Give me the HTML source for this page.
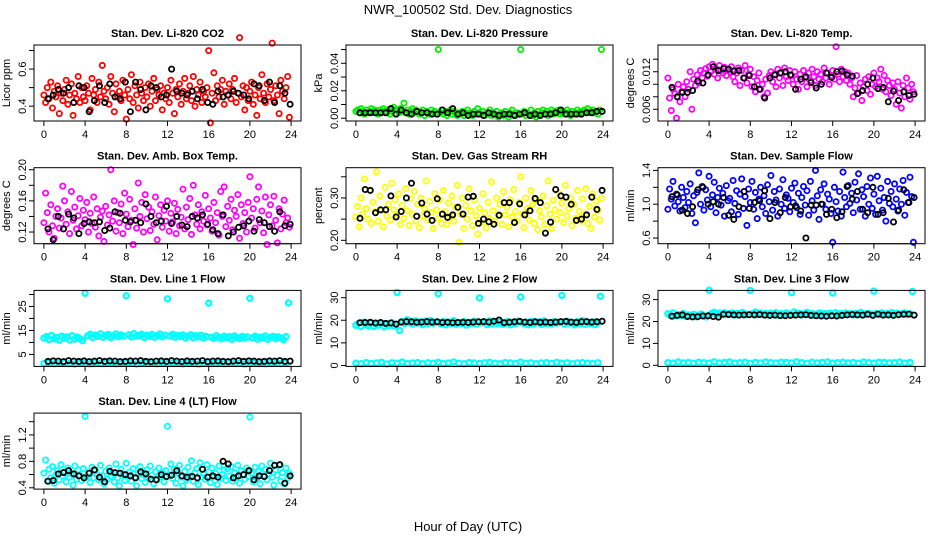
<!DOCTYPE html>
<html><head><meta charset="utf-8">
<style>
html,body{margin:0;padding:0;background:#fff;}
svg{display:block;font-family:"Liberation Sans",Arial,sans-serif;}
.ttl{font-size:11px;font-weight:bold;}
.tk{font-size:11px;}
</style></head>
<body>
<svg id="chart" width="936" height="540" viewBox="0 0 936 540" xmlns="http://www.w3.org/2000/svg">
<rect x="0" y="0" width="936" height="540" fill="#fff"/>
<text x="468" y="14" text-anchor="middle" font-size="13">NWR_100502  Std. Dev. Diagnostics</text>
<text x="468" y="531" text-anchor="middle" font-size="13">Hour of Day (UTC)</text>
</svg>
<script>
// ---------- data (colored = every 10 min, black = every 30 min) ----------
const xTicks=[0,4,8,12,16,20,24];
const co2Values=[.46,.42,.50,.44,.53,.39,.48,.45,.51,.36,.47,.43,.49,.54,.41,.46,.52,.35,.47,.44,.56,.42,.50,.45,.43,.51,.47,.38,.55,.46,.49,.42,.53,.45,.62,.48,.44,.50,.41,.56,.47,.37,.52,.45,.48,.43,.54,.46,.33,.49,.44,.57,.42,.51,.46,.39,.53,.47,.43,.50,.45,.52,.40,.48,.55,.43,.49,.46,.51,.38,.47,.44,.50,.42,.54,.47,.36,.49,.45,.52,.41,.48,.55,.44,.47,.51,.43,.56,.40,.49,.46,.53,.42,.48,.45,.50,.70,.31,.47,.58,.43,.51,.45,.49,.54,.41,.48,.46,.52,.44,.49,.55,.42,.47,.77,.45,.51,.38,.50,.43,.48,.53,.41,.46,.35,.50,.44,.57,.47,.42,.52,.45,.49,.74,.43,.51,.46,.36,.54,.48,.44,.50,.56,.34];
const co2Ref=[.44,.46,.49,.47,.50,.42,.51,.50,.37,.43,.51,.42,.52,.45,.44,.53,.37,.53,.49,.38,.51,.50,.45,.46,.60,.48,.47,.46,.48,.44,.49,.42,.41,.48,.45,.46,.48,.47,.46,.44,.52,.51,.43,.53,.42,.51,.47,.41];
const presValues=[.005,.006,.004,.007,.005,.003,.006,.004,.005,.007,.004,.006,.005,.003,.006,.004,.007,.005,.004,.006,.003,.005,.008,.006,.006,.004,.007,.005,.011,.004,.006,.003,.005,.007,.004,.006,.005,.003,.004,.006,.002,.005,.004,.003,.006,.004,.005,.003,.050,.004,.006,.003,.005,.002,.004,.006,.003,.005,.004,.002,.004,.003,.005,.002,.004,.006,.003,.004,.002,.005,.003,.007,.004,.003,.005,.002,.004,.003,.006,.002,.004,.003,.005,.001,.003,.004,.002,.005,.003,.001,.004,.006,.003,.002,.004,.003,.050,.003,.005,.002,.004,.003,.006,.002,.004,.001,.005,.003,.004,.006,.003,.005,.002,.004,.006,.003,.005,.004,.006,.003,.004,.005,.003,.006,.004,.002,.005,.003,.004,.006,.003,.005,.004,.006,.005,.007,.004,.005,.006,.004,.005,.003,.006,.050];
const presRef=[.004,.004,.004,.004,.004,.004,.007,.003,.006,.004,.003,.005,.004,.004,.003,.003,.006,.004,.007,.003,.004,.002,.003,.003,.002,.004,.003,.002,.003,.003,.002,.003,.004,.002,.003,.002,.003,.003,.004,.006,.003,.003,.003,.003,.004,.004,.005,.005];
const tempValues=[.0110,.0078,.0058,.0092,.0085,.0046,.0100,.0072,.0088,.0096,.0080,.0104,.0092,.0120,.0060,.0108,.0098,.0115,.0102,.0122,.0110,.0118,.0125,.0113,.0128,.0120,.0132,.0116,.0125,.0110,.0130,.0122,.0118,.0127,.0114,.0124,.0120,.0128,.0112,.0104,.0118,.0126,.0098,.0122,.0110,.0130,.0102,.0116,.0124,.0096,.0112,.0088,.0106,.0118,.0092,.0100,.0080,.0108,.0086,.0114,.0120,.0104,.0116,.0096,.0124,.0110,.0118,.0098,.0126,.0112,.0106,.0122,.0114,.0100,.0120,.0108,.0092,.0116,.0104,.0122,.0110,.0096,.0118,.0106,.0124,.0112,.0098,.0120,.0108,.0116,.0104,.0126,.0110,.0118,.0100,.0114,.0122,.0108,.0160,.0116,.0104,.0124,.0112,.0120,.0106,.0118,.0100,.0110,.0080,.0094,.0114,.0086,.0102,.0074,.0096,.0108,.0090,.0112,.0084,.0100,.0118,.0096,.0110,.0104,.0124,.0092,.0114,.0088,.0106,.0098,.0082,.0102,.0092,.0068,.0104,.0086,.0062,.0098,.0080,.0110,.0094,.0076,.0100,.0088];
const tempRef=[.0095,.0080,.0087,.0087,.0090,.0105,.0102,.0115,.0128,.0122,.0125,.0124,.0121,.0122,.0110,.0114,.0096,.0092,.0078,.0110,.0115,.0118,.0120,.0115,.0092,.0108,.0112,.0103,.0094,.0100,.0118,.0111,.0120,.0121,.0115,.0113,.0085,.0090,.0100,.0110,.0093,.0095,.0072,.0089,.0074,.0088,.0082,.0084];
const ambValues=[.132,.170,.145,.120,.155,.128,.112,.140,.150,.125,.138,.179,.160,.130,.146,.118,.172,.135,.152,.124,.141,.163,.128,.148,.136,.158,.120,.144,.131,.165,.126,.150,.115,.139,.147,.108,.153,.129,.142,.200,.134,.160,.121,.145,.132,.156,.118,.170,.143,.127,.162,.135,.104,.150,.125,.183,.140,.158,.120,.168,.137,.152,.122,.146,.130,.165,.110,.141,.155,.126,.148,.134,.160,.121,.144,.133,.157,.118,.149,.128,.139,.175,.124,.152,.136,.163,.117,.180,.142,.130,.155,.124,.146,.134,.167,.129,.150,.138,.121,.158,.132,.145,.116,.172,.140,.178,.127,.153,.135,.162,.123,.148,.140,.168,.112,.155,.131,.145,.120,.158,.191,.138,.150,.125,.162,.178,.132,.147,.119,.165,.104,.142,.155,.128,.166,.135,.106,.150,.124,.143,.161,.132,.138,.126];
const ambRef=[.124,.110,.140,.124,.143,.138,.118,.131,.133,.132,.133,.122,.125,.146,.144,.135,.133,.135,.132,.156,.140,.132,.134,.153,.131,.140,.129,.127,.140,.138,.142,.130,.123,.118,.142,.115,.120,.126,.128,.134,.121,.136,.132,.127,.121,.146,.128,.130];
const rhValues=[.255,.280,.232,.300,.262,.345,.275,.250,.318,.240,.290,.268,.362,.245,.305,.270,.232,.325,.258,.285,.248,.335,.272,.296,.260,.310,.238,.282,.252,.322,.270,.235,.298,.262,.315,.245,.285,.230,.300,.258,.275,.340,.248,.292,.266,.228,.310,.272,.252,.296,.240,.318,.268,.238,.288,.255,.305,.245,.278,.330,.195,.262,.300,.228,.282,.250,.322,.270,.235,.295,.258,.215,.276,.242,.310,.265,.230,.290,.252,.338,.270,.245,.300,.262,.285,.238,.315,.260,.278,.232,.296,.255,.320,.268,.245,.290,.350,.262,.230,.300,.275,.248,.318,.285,.240,.296,.225,.270,.255,.305,.238,.282,.340,.262,.228,.295,.272,.250,.312,.266,.288,.242,.330,.258,.275,.300,.235,.285,.252,.318,.268,.245,.298,.262,.322,.240,.280,.228,.310,.255,.292,.270,.248,.300];
const rhRef=[.252,.320,.318,.265,.272,.272,.305,.255,.268,.300,.335,.257,.288,.262,.247,.298,.262,.254,.260,.278,.262,.302,.304,.240,.250,.244,.238,.259,.289,.289,.242,.286,.260,.270,.299,.289,.217,.243,.320,.305,.302,.285,.247,.250,.260,.302,.273,.318];
const flowValues=[.94,1.18,1.06,1.27,.98,1.12,1.03,.92,1.20,1.08,.96,1.15,1.02,1.24,.89,1.10,.78,1.14,1.37,1.00,1.21,.93,1.17,1.05,1.33,.97,1.11,1.26,.90,1.08,1.19,.99,1.13,.86,1.22,1.04,1.07,.91,1.28,1.01,1.16,.88,1.12,1.30,.95,1.09,.75,1.18,1.02,1.27,.94,1.14,.83,1.06,1.20,.97,1.10,.89,1.23,1.03,1.34,.93,1.15,1.05,.86,1.18,1.00,1.29,.95,1.11,1.07,.91,1.19,1.02,1.25,.96,1.13,.88,1.08,1.21,.99,1.16,.87,1.27,1.04,.93,1.40,1.10,.82,1.17,1.00,1.24,.94,1.12,1.06,.89,.55,1.20,1.03,.92,1.15,.86,1.38,1.08,.97,1.22,1.01,1.13,.90,1.26,1.05,1.36,.94,1.17,1.09,.86,1.21,1.00,1.31,.95,1.12,.88,1.33,1.04,1.19,.93,1.08,.80,1.27,1.01,1.15,.97,1.24,1.06,.92,1.18,1.00,1.28,.87,1.14,1.02,1.32,1.09,.55];
const flowRef=[1.09,1.11,.93,.89,.97,1.17,1.20,1.00,1.03,1.00,1.08,.87,.82,.97,1.15,.95,1.02,1.04,1.16,.83,1.02,.90,1.08,.97,.98,.92,.60,.99,.99,1.00,.88,.94,.84,.91,1.21,1.06,1.15,.94,.90,1.20,.88,.90,1.07,.79,.93,1.17,1.02,1.08];
// line flows: upper band every 15 min, lower band every 30 min
const line1Upper=[11.8,12.4,11.2,12.9,11.5,12.1,10.9,12.6,11.7,12.3,11.0,12.8,11.4,12.2,11.6,10.8,30.5,12.8,13.4,12.1,13.0,12.5,13.6,12.2,12.9,13.3,12.0,12.7,13.5,12.4,13.1,12.6,29.5,13.2,12.3,13.7,12.6,12.9,13.4,12.1,13.0,12.5,13.3,12.2,12.8,13.5,12.4,13.0,28.2,12.7,13.4,12.2,12.9,12.5,13.1,11.9,12.6,13.2,12.0,12.8,12.3,13.0,11.8,12.5,26.4,12.2,11.7,12.8,12.1,11.5,12.6,11.9,12.4,11.3,12.7,12.0,11.6,12.5,11.8,12.3,28.4,11.9,12.6,11.4,12.2,11.8,12.7,11.3,12.1,12.5,11.6,12.3,11.9,11.2,12.4,26.5];
const line1Lower=[1.2,1.4,1.1,1.3,1.5,1.2,1.0,1.4,1.3,1.1,1.5,1.2,1.3,1.4,1.1,1.2,1.5,1.3,1.0,1.4,1.2,1.3,1.1,1.4,1.2,1.5,1.3,1.1,1.4,1.2,1.0,1.3,1.4,1.2,1.5,1.1,1.3,1.2,1.4,1.0,1.3,1.5,1.2,1.1,1.4,1.3,1.2,1.4];
const line1Ref=[2.1,2.3,2.2,2.0,2.4,2.2,2.1,2.3,2.0,2.2,2.4,2.1,2.3,2.2,2.0,2.1,2.3,2.2,2.4,2.1,2.0,2.2,2.3,2.1,2.4,2.2,2.0,2.3,2.1,2.2,2.4,2.0,2.2,2.3,2.1,2.0,2.2,2.4,2.1,2.3,2.2,2.0,2.1,2.3,2.2,2.4,2.1,2.2];
const line2Upper=[17.8,18.6,17.2,19.1,18.0,17.5,18.8,17.3,18.4,17.9,18.7,17.1,18.2,17.6,18.9,17.4,32.3,15.5,19.5,18.6,20.2,19.0,18.3,19.7,18.8,19.3,18.1,19.6,18.5,19.9,18.7,19.2,31.7,18.4,19.5,18.0,19.2,18.6,19.8,18.2,19.0,18.5,19.4,17.9,19.1,18.7,19.6,18.3,29.9,18.9,19.3,18.1,19.7,18.4,19.0,18.6,19.5,18.2,18.8,19.4,18.0,19.1,18.5,19.6,30.3,18.6,19.2,18.0,19.5,18.4,18.9,19.3,18.2,19.7,18.5,19.0,18.3,19.4,18.8,19.1,31.0,18.3,19.6,18.7,19.1,18.0,19.4,18.5,19.8,18.2,19.0,18.6,19.3,18.1,18.9,30.6];
const line2Lower=[1.0,0.8,1.3,0.9,1.1,1.4,0.7,1.2,1.0,1.5,0.9,1.1,1.3,0.8,1.2,1.0,1.4,0.9,1.1,1.6,1.0,0.8,1.3,1.1,0.9,1.2,1.4,1.0,0.8,1.3,1.1,0.9,1.5,1.0,1.2,0.8,1.1,1.3,0.9,1.4,1.0,1.2,0.8,1.1,1.3,1.0,0.9,1.2];
const line2Ref=[18.9,19.0,19.1,18.8,19.0,18.6,18.8,18.3,19.2,19.4,19.3,19.1,19.2,19.4,19.2,19.3,19.0,19.1,18.9,19.0,19.1,19.0,19.2,19.3,19.4,19.2,19.6,20.1,18.9,19.1,19.3,19.5,19.2,19.0,19.3,19.1,19.2,19.0,19.2,19.4,19.5,19.2,19.0,19.3,19.4,19.2,19.3,19.6];
const line3Upper=[23.5,22.8,23.9,22.5,23.2,22.7,23.6,22.4,23.0,22.6,23.3,22.2,22.9,23.4,22.6,22.1,34.3,23.7,24.2,23.1,23.8,23.4,24.0,23.2,23.6,23.9,23.0,23.7,23.3,24.1,23.5,23.2,34.2,23.6,24.3,23.1,23.9,23.4,23.7,23.0,23.8,23.3,24.0,22.9,23.6,23.2,23.9,23.4,33.2,24.4,23.3,23.8,23.0,23.6,24.1,23.2,23.7,22.9,23.5,23.9,23.1,23.6,23.3,23.8,33.0,24.0,23.4,23.7,23.1,23.9,23.3,23.6,23.0,23.8,23.4,24.1,23.2,23.5,23.7,23.3,33.9,23.6,23.2,23.9,23.4,23.7,23.1,24.0,23.5,23.8,23.3,23.6,23.9,23.2,23.5,33.7];
const line3Lower=[1.2,1.0,1.5,1.1,1.3,0.9,1.4,1.2,1.0,1.6,1.1,1.3,1.5,1.0,1.2,1.4,0.9,1.3,1.1,1.5,1.2,1.0,1.4,1.3,1.1,1.6,1.2,0.9,1.4,1.1,1.3,1.5,1.0,1.2,1.4,1.1,1.3,0.9,1.5,1.2,1.0,1.4,1.3,1.1,1.2,1.5,1.0,1.3];
const line3Ref=[22.4,22.8,23.0,22.3,22.1,22.2,22.5,22.6,22.3,22.0,23.3,23.2,23.0,22.9,23.0,23.1,23.0,23.2,22.9,22.8,22.9,22.7,22.6,22.8,22.9,23.0,23.1,22.8,22.6,22.5,22.4,22.6,22.5,22.8,23.0,23.2,23.0,22.9,23.3,22.8,23.4,22.9,23.0,22.8,23.1,23.3,23.4,22.9];
const line4Values=[.62,.82,.50,.68,.55,.72,.47,.60,.66,.52,.75,.58,.64,.49,.70,.56,.61,.44,.73,.53,.67,.59,.51,.69,1.48,.57,.63,.48,.71,.55,.66,.60,.52,.74,.58,.46,.65,.53,.70,.57,.62,.49,.76,.55,.43,.68,.60,.51,.77,.58,.64,.50,.69,.56,.43,.62,.72,.54,.61,.48,.67,.55,.73,.59,.46,.64,.52,.70,.57,.63,.49,.66,1.33,.60,.76,.54,.68,.47,.62,.74,.56,.43,.65,.52,.71,.58,.81,.50,.63,.69,.45,.78,.56,.61,.53,.75,.64,.48,.70,.57,.62,.45,.73,.55,.60,.67,.51,.69,.58,.72,.50,.63,.56,.74,.47,.66,.60,.53,.70,.57,1.47,.62,.49,.71,.55,.64,.46,.73,.58,.68,.52,.61,.77,.56,.44,.67,.59,.74,.50,.63,.46,.70,.55,.62];
const line4Ref=[.50,.51,.61,.63,.66,.61,.58,.55,.62,.67,.56,.49,.65,.63,.62,.60,.58,.55,.64,.61,.53,.52,.60,.57,.59,.66,.58,.56,.57,.55,.68,.56,.58,.56,.80,.76,.55,.58,.60,.66,.52,.58,.57,.66,.74,.75,.47,.58];

// tick values / labels per panel
const co2Ticks=[.4,.5,.6,.7], co2Labels=["0.4","","0.6",""];
const presTicks=[0,.01,.02,.03,.04,.05], presLabels=["0.00","","0.02","","0.04",""];
const tempTicks=[.006,.008,.010,.012,.014], tempLabels=["0.006","","","0.012",""];
const ambTicks=[.12,.14,.16,.18,.20], ambLabels=["0.12","","0.16","","0.20"];
const rhTicks=[.20,.25,.30,.35], rhLabels=["0.20","","0.30",""];
const flowTicks=[.6,.8,1.0,1.2,1.4], flowLabels=["0.6","","1.0","","1.4"];
const line1Ticks=[5,10,15,20,25,30], line1Labels=["5","","15","","25",""];
const line2Ticks=[0,10,20,30], line2Labels=["0","10","20","30"];
const line3Ticks=[0,10,20,30], line3Labels=["0","10","20","30"];
const line4Ticks=[.4,.6,.8,1.0,1.2,1.4], line4Labels=["0.4","","0.8","","1.2",""];

// ---------- layout ----------
const svg=document.getElementById('chart');
const NS='http://www.w3.org/2000/svg';
const BOX_X0=34, COL_W=312, BOX_W=267, BOX_Y0=45, ROW_H=122.7, BOX_H=76;
const X_MIN=-0.96, X_MAX=24.96;

const panels=[
 {key:'co2',title:'Stan. Dev. Li-820 CO2',ylab:'Licor ppm',yl:[0.32,0.73],ticks:co2Ticks,labels:co2Labels,series:[[co2Values,'#ff0000']],ref:co2Ref},
 {key:'pressure',title:'Stan. Dev. Li-820 Pressure',ylab:'kPa',yl:[-0.002,0.0533],ticks:presTicks,labels:presLabels,series:[[presValues,'#00ee00']],ref:presRef},
 {key:'temp',title:'Stan. Dev. Li-820 Temp.',ylab:'degrees C',yl:[0.00413,0.01627],ticks:tempTicks,labels:tempLabels,series:[[tempValues,'#ff00ff']],ref:tempRef},
 {key:'amb-box-temp',title:'Stan. Dev. Amb. Box Temp.',ylab:'degrees C',yl:[0.105,0.2026],ticks:ambTicks,labels:ambLabels,series:[[ambValues,'#ff00ff']],ref:ambRef},
 {key:'gas-stream-rh',title:'Stan. Dev. Gas Stream RH',ylab:'percent',yl:[0.192,0.3715],ticks:rhTicks,labels:rhLabels,series:[[rhValues,'#ffff00']],ref:rhRef},
 {key:'sample-flow',title:'Stan. Dev. Sample Flow',ylab:'ml/min',yl:[0.533,1.432],ticks:flowTicks,labels:flowLabels,series:[[flowValues,'#0000ff']],ref:flowRef},
 {key:'line1-flow',title:'Stan. Dev. Line 1 Flow',ylab:'ml/min',yl:[0,31.7],ticks:line1Ticks,labels:line1Labels,series:[[line1Upper,'#00ffff'],[line1Lower,'#00ffff']],ref:line1Ref},
 {key:'line2-flow',title:'Stan. Dev. Line 2 Flow',ylab:'ml/min',yl:[-0.4,33.2],ticks:line2Ticks,labels:line2Labels,series:[[line2Upper,'#00ffff'],[line2Lower,'#00ffff']],ref:line2Ref},
 {key:'line3-flow',title:'Stan. Dev. Line 3 Flow',ylab:'ml/min',yl:[-0.5,34.2],ticks:line3Ticks,labels:line3Labels,series:[[line3Upper,'#00ffff'],[line3Lower,'#00ffff']],ref:line3Ref},
 {key:'line4-flow',title:'Stan. Dev. Line 4 (LT) Flow',ylab:'ml/min',yl:[0.38,1.53],ticks:line4Ticks,labels:line4Labels,series:[[line4Values,'#00ffff']],ref:line4Ref}
];

function mk(tag,attrs,parent){const e=document.createElementNS(NS,tag);for(const k in attrs)e.setAttribute(k,attrs[k]);(parent||svg).appendChild(e);return e;}

panels.forEach((p,pi)=>{
  const col=pi%3,row=Math.floor(pi/3);
  const L=BOX_X0+col*COL_W, T=BOX_Y0+row*ROW_H, B=T+BOX_H, R=L+BOX_W;
  const xs=h=>L+(h-X_MIN)/(X_MAX-X_MIN)*BOX_W;
  const ys=v=>B-(v-p.yl[0])/(p.yl[1]-p.yl[0])*BOX_H;
  const g=mk('g',{});
  
  
  const t=mk('text',{x:(L+R)/2,y:T-8,'text-anchor':'middle',class:'ttl'},g);
  t.textContent=p.title;
  
  
  const pts=mk('g',{fill:'none','stroke-width':1.8},g);
  
  
  p.series.forEach(([vals,color])=>{
    const step=24/vals.length;
    const sw=vals.length<140?2.2:1.8;
    vals.forEach((v,i)=>{
      const c=mk('circle',{cx:xs(i*step).toFixed(1),cy:ys(v).toFixed(1),r:2.6,stroke:color,'stroke-width':sw},pts);
      
      
    });
  });
  p.ref.forEach((v,i)=>{
    const c=mk('circle',{cx:xs(0.4+i*0.5).toFixed(1),cy:ys(v).toFixed(1),r:2.6,stroke:'#000'},pts);
    
    
  });
  const bx=mk('rect',{x:L,y:T,width:BOX_W,height:BOX_H,fill:'none',stroke:'#000','stroke-width':1},g);
  
  
  const xa=mk('g',{stroke:'#000'},g);
  
  
  mk('line',{x1:xs(xTicks[0]),x2:xs(xTicks[xTicks.length-1]),y1:B,y2:B},xa);
  xTicks.forEach(h=>{
    mk('line',{x1:xs(h),x2:xs(h),y1:B,y2:B+5},xa);
    const tl=mk('text',{x:xs(h),y:B+17,'text-anchor':'middle',class:'tk',stroke:'none',fill:'#000'},xa);
    tl.textContent=String(h);
    
    
  });
  const ya=mk('g',{stroke:'#000'},g);
  
  
  mk('line',{x1:L,x2:L,y1:ys(p.ticks[0]),y2:ys(p.ticks[p.ticks.length-1])},ya);
  p.ticks.forEach((v,i)=>{
    const y=ys(v);
    mk('line',{x1:L-5,x2:L,y1:y,y2:y},ya);
    if(p.labels[i]){
      const tl=mk('text',{x:L-8,y:y,'text-anchor':'middle',class:'tk',stroke:'none',fill:'#000',transform:`rotate(-90 ${L-8} ${y})`},ya);
      tl.textContent=p.labels[i];
      
      
    }
  });
  const yt=mk('text',{x:L-24,y:(T+B)/2,'text-anchor':'middle','font-size':11,transform:`rotate(-90 ${L-24} ${(T+B)/2})`},g);
  yt.textContent=p.ylab;
  
  
});
</script>
</body></html>
